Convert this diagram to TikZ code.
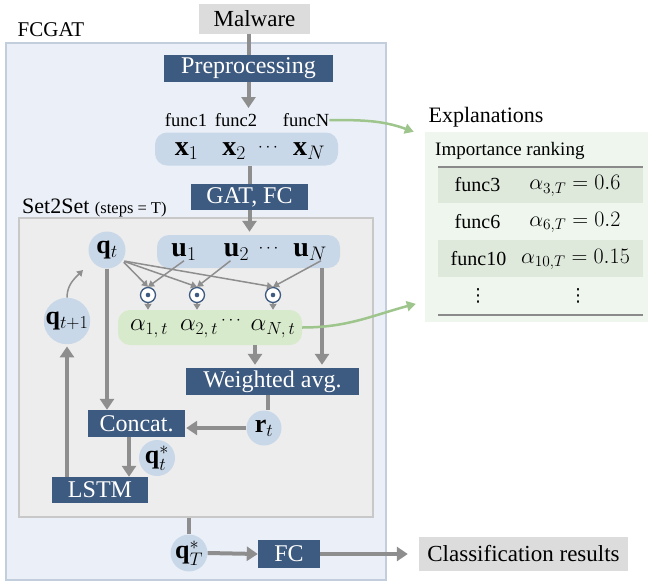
\documentclass[tikz,border=0pt]{standalone}
\usepackage{fix-cm}
\usepackage{fontspec}
\setmainfont{Liberation Serif}
\newfontfamily\tnr{Liberation Serif}
\newfontfamily\dvs{DejaVu Sans}
\usetikzlibrary{arrows.meta}
\definecolor{dblue}{HTML}{3D5A80}
\definecolor{agray}{HTML}{8E8E8E}
\definecolor{lblue}{HTML}{C9D8E8}
\definecolor{outerfill}{HTML}{EBF0F8}
\definecolor{outerdraw}{HTML}{C3CEDC}
\definecolor{innerfill}{HTML}{EDEDED}
\definecolor{innerdraw}{HTML}{C8C8C8}
\definecolor{gbox}{HTML}{D7EACB}
\definecolor{garrowc}{HTML}{9DC58C}
\definecolor{gpanel}{HTML}{EEF6EE}
\definecolor{lgray}{HTML}{DCDCDC}
\definecolor{rowfill}{HTML}{DEE9DC}
\definecolor{rulec}{HTML}{8A8A8A}
\newcommand\fs[1]{\tnr\fontsize{#1}{#1}\selectfont}
\newcommand\mdots{{\fontsize{17}{17}\selectfont$\cdots$}}
\tikzset{
  blk/.style={fill=dblue, text=white, font=\fs{24}, inner sep=0pt},
  gbx/.style={fill=lgray, text=black, font=\fs{23}, inner sep=0pt},
  rbox/.style={fill=lblue, rounded corners=12pt, inner sep=0pt},
  circ/.style={circle, fill=lblue, inner sep=0pt, font=\fs{26}},
  odotn/.style={circle, draw=dblue, line width=1.3pt, fill=white, minimum size=15pt, inner sep=0pt},
  lbl/.style={inner sep=0pt, font=\fs{28}},
  albl/.style={inner sep=0pt, font=\fs{25}},
  vd/.style={inner sep=0pt, font=\dvs\fontsize{18}{18}\selectfont},
  thk/.style={draw=agray, line width=4pt},
  tar/.style={thk, -{Triangle[length=11pt,width=14pt]}},
  thn/.style={draw=agray, line width=1.5pt, -{Triangle[length=6pt,width=7pt]}},
  gar/.style={draw=garrowc, line width=2.5pt, -{Triangle[length=9pt,width=10pt]}},
}
\begin{document}
\begin{tikzpicture}[x=1pt,y=-1pt]
\useasboundingbox (0,0) rectangle (648,584);
% containers
\node[fill=outerfill, draw=outerdraw, line width=1.2pt, minimum width=380pt, minimum height=537pt, inner sep=0pt] (outer) at (196,311.5) {};
\node[inner sep=0pt, font=\fs{21}] (fcgat) at (51,30) {FCGAT};
\node[fill=innerfill, draw=innerdraw, line width=1.2pt, minimum width=354pt, minimum height=299pt, inner sep=0pt] (s2s) at (196,367.5) {};
\node[inner sep=0pt, font=\fs{22}, anchor=base west] (s2slbl) at (22,213) {Set2Set {\fs{16.5}(steps = T)}};
% top
\node[gbx, minimum width=111pt, minimum height=30pt] (mal) at (254.5,18.5) {Malware};
\node[blk, minimum width=169pt, minimum height=27pt] (pre) at (248.5,68.5) {Preprocessing};
\coordinate (ptip) at (248.5,108);
\node[inner sep=0pt, font=\fs{18.5}] (f1) at (186,120) {func1};
\node[inner sep=0pt, font=\fs{18.5}] (f2) at (236,120) {func2};
\node[inner sep=0pt, font=\fs{18.5}] (fN) at (306,120) {funcN};
\node[rbox, minimum width=183pt, minimum height=33pt] (xbox) at (246.5,149) {};
\node[lbl] (x1) at (186.5,151) {$\mathbf{x}_1$};
\node[lbl] (x2) at (234,151) {$\mathbf{x}_2$};
\node[lbl] (xd) at (268,148) {\mdots};
\node[lbl] (xN) at (309,151) {$\mathbf{x}_N$};
\node[blk, minimum width=117pt, minimum height=26pt] (gat) at (249.5,197) {GAT, FC};
% set2set internals
\node[rbox, minimum width=183pt, minimum height=33pt] (ubox) at (248.5,251.5) {};
\node[lbl] (u1) at (184,252) {$\mathbf{u}_1$};
\node[lbl] (u2) at (236.5,252) {$\mathbf{u}_2$};
\node[lbl] (ud) at (268.5,249) {\mdots};
\node[lbl] (uN) at (310,252) {$\mathbf{u}_N$};
\node[circ, minimum size=37pt] (qt) at (107,250) {$\mathbf{q}_t$};
\node[circ, minimum size=43pt] (qt1) at (67,321) {$\mathbf{q}_{t+1}$};
\node[odotn] (o1) at (148,295) {};
\node[odotn] (o2) at (197,295) {};
\node[odotn] (o3) at (273,295) {};
\fill[dblue] (o1) circle (2.3pt) (o2) circle (2.3pt) (o3) circle (2.3pt);
\node[rbox, fill=gbox, minimum width=184pt, minimum height=35pt] (abox) at (210,327.5) {};
\node[albl] (a1) at (149,329) {$\alpha_{1,\,t}$};
\node[albl] (a2) at (199,329) {$\alpha_{2,\,t}$};
\node[albl] (ad) at (231,321) {\mdots};
\node[albl] (aN) at (273,329) {$\alpha_{N,\,t}$};
\node[blk, minimum width=173pt, minimum height=27pt] (wavg) at (272.5,381.5) {Weighted avg.};
\node[circ, minimum size=35pt] (rt) at (264,428) {$\mathbf{r}_t$};
\node[blk, minimum width=97pt, minimum height=27pt] (cat) at (136.5,423.5) {Concat.};
\node[circ, minimum size=36pt] (qs) at (157,458) {$\mathbf{q}_t^*$};
\node[blk, minimum width=96pt, minimum height=26pt] (lstm) at (100,490) {LSTM};
\coordinate (cq) at (83,270);
% bottom
\node[circ, minimum size=36pt] (qT) at (189,553) {$\mathbf{q}_T^*$};
\node[blk, minimum width=62pt, minimum height=28pt] (fc) at (289,554) {FC};
\node[gbx, minimum width=209pt, minimum height=34pt] (cls) at (523.5,554) {Classification results};
% explanations
\node[inner sep=0pt, font=\fs{22}] (explbl) at (486,117) {Explanations};
\node[fill=gpanel, minimum width=223pt, minimum height=190pt, inner sep=0pt] (expl) at (536.5,227) {};
\node[inner sep=0pt, font=\fs{19}, anchor=west] (imp) at (435,151) {Importance ranking};
\fill[rowfill] (438,167) rectangle (643,203);
\fill[rowfill] (438,240) rectangle (643,277);
\draw[rulec, line width=1.3pt] (438,167) -- (643,167);
\draw[rulec, line width=1.3pt] (438,315) -- (643,315);
\node[inner sep=0pt, font=\fs{20}] (r1a) at (477.5,185) {func3};
\node[inner sep=0pt, font=\fs{22}] (r1b) at (575,186) {$\alpha_{3,T}=0.6$};
\node[inner sep=0pt, font=\fs{20}] (r2a) at (477.5,221.5) {func6};
\node[inner sep=0pt, font=\fs{22}] (r2b) at (575,222.5) {$\alpha_{6,T}=0.2$};
\node[inner sep=0pt, font=\fs{20}] (r3a) at (478.5,258.5) {func10};
\node[inner sep=0pt, font=\fs{22}] (r3b) at (575.5,259.5) {$\alpha_{10,T}=0.15$};
\node[vd] (r4a) at (478,296) {⋮};
\node[vd] (r4b) at (578,296) {⋮};
% connectors
\draw[thk] (mal.south -| pre.north) -- (pre.north);
\draw[tar] (pre.south -| ptip) -- (ptip);
\draw[thk] (gat.north |- xbox.south) -- (gat.north);
\draw[tar, shorten >=3pt] (gat.south) -- (gat.south |- ubox.north);
\foreach \o in {o1,o2,o3} {\draw[thn, shorten <=2pt] (qt.-35) -- (\o.north);}
\draw[thn] ([xshift=0pt]u1.south) -- (o1.north);
\draw[thn] ([xshift=-6pt]u2.south) -- (o2.north);
\draw[thn] ([xshift=11pt]uN.south) -- (o3.north);
\draw[thn] (o1.south) -- (o1.south |- abox.north);
\draw[thn] (o2.south) -- (o2.south |- abox.north);
\draw[thn] (o3.south) -- (o3.south |- abox.north);
\draw[tar, shorten >=3pt] ([xshift=45pt]abox.south) -- ([xshift=45pt]abox.south |- wavg.north);
\draw[tar, shorten >=3pt] ([xshift=73.5pt]ubox.south) -- ([xshift=73.5pt]ubox.south |- wavg.north);
\draw[thk] ([xshift=-4.5pt]wavg.south) -- ([xshift=-4.5pt]wavg.south |- rt.north);
\draw[tar, shorten >=1pt] (rt.west) -- (rt.west -| cat.east);
\draw[tar] (qt.south) -- (qt.south |- cat.north);
\draw[tar] ([xshift=-7.5pt]cat.south) -- ([xshift=-7.5pt]cat.south |- lstm.north);
\draw[tar, shorten >=2pt] (qt1.south |- lstm.north) -- (qt1.south);
\draw[thn] (qt1.north) to[out=90, in=225] (cq);
\draw[thk] (qT.north |- s2s.south) -- (qT.north);
\draw[tar] (qT.east) -- (fc.west);
\draw[tar, shorten >=11pt] (fc.east) -- (cls.west);
\draw[gar] (fN.east) to[out=0, in=160] ([xshift=-11pt]expl.north west);
\draw[gar] (abox.east) to[out=0, in=195] ([xshift=-9pt,yshift=-172pt]expl.north west);
\end{tikzpicture}
\end{document}
